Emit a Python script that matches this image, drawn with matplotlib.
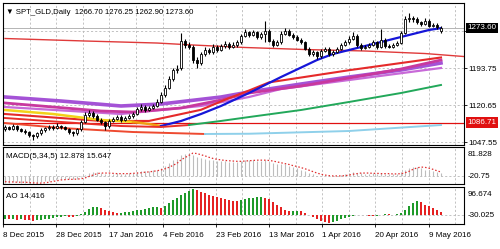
import matplotlib
matplotlib.use("Agg")
import matplotlib.pyplot as plt
import matplotlib.transforms as mtrans
import numpy as np

plt.rcParams['font.family'] = ['Liberation Sans', 'DejaVu Sans']

# ---------------- data ----------------
symbol_title = "SPT_GLD,Daily"
last_ohlc = ["1266.70", "1276.25", "1262.90", "1273.60"]

opens = [1075, 1078, 1075, 1080, 1074, 1071, 1068, 1062, 1060, 1066,
         1072, 1076, 1079, 1077, 1081, 1078, 1075, 1068, 1066, 1074,
         1088, 1102, 1106, 1099, 1092, 1088, 1080, 1090, 1094, 1098,
         1092, 1096, 1100, 1104, 1114, 1118, 1112, 1116, 1120, 1128,
         1142, 1155, 1172, 1190, 1195, 1247, 1240, 1236, 1210, 1205,
         1222, 1230, 1226, 1236, 1230, 1238, 1242, 1236, 1240, 1245,
         1258, 1265, 1260, 1265, 1255, 1262, 1268, 1248, 1240, 1245,
         1262, 1268, 1260, 1256, 1250, 1245, 1232, 1222, 1225, 1218,
         1228, 1232, 1222, 1226, 1232, 1240, 1246, 1252, 1258, 1240,
         1234, 1236, 1240, 1245, 1236, 1250, 1238, 1236, 1240, 1244,
         1264, 1290, 1293, 1290, 1285, 1282, 1288, 1278, 1280, 1266.7]
highs = [1082, 1081, 1084, 1082, 1077, 1074, 1070, 1065, 1069, 1076,
         1079, 1083, 1082, 1085, 1083, 1081, 1077, 1071, 1077, 1091,
         1107, 1111, 1109, 1103, 1095, 1090, 1094, 1098, 1102, 1101,
         1100, 1103, 1108, 1118, 1123, 1121, 1120, 1124, 1133, 1147,
         1161, 1178, 1195, 1200, 1263, 1251, 1246, 1240, 1216, 1226,
         1235, 1234, 1241, 1240, 1242, 1247, 1245, 1245, 1249, 1262,
         1271, 1268, 1270, 1268, 1266, 1287, 1271, 1251, 1249, 1267,
         1274, 1271, 1263, 1260, 1253, 1248, 1235, 1229, 1228, 1232,
         1236, 1235, 1230, 1235, 1244, 1250, 1257, 1265, 1261, 1243,
         1240, 1244, 1249, 1248, 1272, 1253, 1242, 1243, 1248, 1268,
         1296, 1303, 1297, 1294, 1288, 1293, 1291, 1284, 1283, 1276.25]
lows = [1071, 1072, 1072, 1070, 1068, 1064, 1059, 1052, 1057, 1063,
        1069, 1073, 1073, 1074, 1074, 1072, 1064, 1061, 1063, 1071,
        1085, 1098, 1095, 1089, 1084, 1073, 1077, 1087, 1091, 1088,
        1089, 1093, 1096, 1101, 1110, 1108, 1109, 1113, 1117, 1125,
        1138, 1152, 1168, 1184, 1191, 1234, 1232, 1205, 1195, 1201,
        1218, 1221, 1222, 1226, 1227, 1234, 1232, 1233, 1236, 1242,
        1255, 1256, 1257, 1251, 1252, 1246, 1245, 1236, 1237, 1242,
        1259, 1257, 1252, 1247, 1241, 1229, 1218, 1219, 1213, 1215,
        1225, 1218, 1219, 1223, 1229, 1237, 1242, 1249, 1236, 1230,
        1231, 1233, 1237, 1232, 1233, 1234, 1233, 1233, 1237, 1241,
        1261, 1286, 1286, 1281, 1278, 1279, 1275, 1275, 1272, 1262.9]
closes = [1078, 1075, 1080, 1074, 1071, 1068, 1062, 1060, 1066, 1072,
          1076, 1079, 1077, 1081, 1078, 1075, 1068, 1066, 1074, 1088,
          1102, 1106, 1099, 1092, 1088, 1080, 1090, 1094, 1098, 1092,
          1096, 1100, 1104, 1114, 1118, 1112, 1116, 1120, 1128, 1142,
          1155, 1172, 1190, 1192, 1247, 1240, 1236, 1210, 1205, 1222,
          1230, 1226, 1236, 1230, 1238, 1242, 1236, 1240, 1245, 1258,
          1265, 1260, 1265, 1255, 1262, 1268, 1248, 1240, 1245, 1262,
          1268, 1260, 1256, 1250, 1245, 1232, 1222, 1225, 1218, 1228,
          1232, 1222, 1226, 1232, 1240, 1246, 1252, 1258, 1240, 1234,
          1236, 1240, 1245, 1236, 1250, 1238, 1236, 1240, 1244, 1264,
          1290, 1293, 1290, 1285, 1282, 1288, 1278, 1280, 1276, 1273.6]

# moving-average lines (bar index, price)
ma_long_idx = [0, 20, 38, 47, 60, 75, 90, 105, 114.75]
ma_long_val = [1252.5, 1247.6, 1243.6, 1239.7, 1234.8, 1230.8, 1227.9, 1222.9, 1217.0]
purple_idx = [0, 14, 29, 39, 54, 61, 74, 86, 99, 109]
purple_val = [1137.2, 1129.3, 1119.5, 1123.4, 1137.2, 1147.1, 1162.8, 1176.6, 1190.4, 1204.2]
magenta_idx = [0, 24, 32, 44, 54, 61, 74, 86, 99, 109]
magenta_val = [1125.4, 1109.6, 1107.6, 1115.5, 1131.3, 1145.1, 1158.9, 1174.7, 1192.4, 1210.1]
orchid_idx = [0, 29, 49, 61, 69, 86, 109]
orchid_val = [1117.5, 1103.7, 1119.5, 1137.2, 1153.0, 1170.7, 1194.4]
crimson_idx = [0, 24, 36, 49, 56, 61, 66, 86, 109]
crimson_val = [1103.7, 1090.0, 1090.0, 1112.0, 1135.0, 1150.0, 1166.0, 1190.0, 1215.1]
fast_idx = [0, 12, 24, 32, 36, 39, 44, 49, 54, 61, 69, 78, 82, 86, 94, 99, 106, 109]
fast_val = [1111.6, 1103.7, 1091.9, 1088.0, 1084.0, 1080.0, 1089.9, 1103.7, 1119.5,
            1145.1, 1176.6, 1210.1, 1222.0, 1229.8, 1245.6, 1255.5, 1269.3, 1273.0]
mid_idx = [0, 14, 29, 39, 46, 54, 61, 74, 86, 99, 109]
mid_val = [1095.8, 1088.0, 1080.0, 1078.1, 1082.0, 1090.0, 1097.7, 1111.6, 1127.4, 1145.1, 1160.9]
low_idx = [0, 14, 32, 50, 61, 86, 109]
low_val = [1085.9, 1076.1, 1068.2, 1064.3, 1064.8, 1070.2, 1082.0]

hline_level = 1086.71
last_price = 1273.60
price_ticks = [1047.55, 1120.65, 1193.75, 1266.85]
price_tick_labels = ["1047.55", "1120.65", "1193.75", ""]

macd_main = [-22, -21, -19, -20, -21, -22, -24, -25, -23, -20,
             -17, -14, -12, -10, -9, -9, -10, -10, -7, -2,
             6, 12, 14, 14, 12, 9, 10, 10, 11, 10,
             10, 11, 12, 15, 18, 18, 19, 21, 24, 30,
             37, 46, 56, 60, 76, 80, 82, 76, 68, 64,
             62, 58, 58, 55, 54, 54, 52, 51, 51, 54,
             57, 57, 57, 55, 55, 56, 52, 46, 42, 42,
             42, 38, 34, 29, 24, 18, 11, 7, 2, 2,
             2, 0, 0, 1, 4, 8, 12, 15, 13, 11,
             10, 10, 11, 9, 11, 9, 8, 8, 9, 15,
             22, 30, 34, 32, 28, 24, 20, 18, 15, 12.878]
macd_signal = [-18, -19, -19, -20, -20, -20, -21, -22, -23, -23,
               -22, -20, -17, -15, -12, -11, -10, -10, -9, -8,
               -5, 0, 5, 10, 12, 12, 12, 11, 10, 10,
               10, 10, 11, 12, 13, 15, 16, 18, 20, 23,
               27, 32, 39, 46, 58, 66, 74, 81.8, 80, 76,
               72, 67, 63, 60, 58, 56, 55, 54, 53, 53,
               54, 55, 56, 57, 57, 57, 56, 54, 51, 48,
               45, 42, 38, 35, 31, 27, 22, 17, 12, 8,
               5, 3, 2, 2, 2, 3, 5, 8, 10, 12,
               12, 12, 11, 11, 10, 10, 10, 9, 9, 10,
               13, 18, 25, 30, 33, 32, 29, 25, 20, 15.647]
ao_values = [-12, -14, -13, -16, -15, -17, -18, -20, -19, -16, -14, -12,
             -9, -6, -4, -3, -4, -5, -2,
             5, 14, 24, 31, 33,
             28, 22, 16, 12, 10,
             11, 13, 15, 17, 20, 23, 26, 28, 31, 33,
             30,
             38, 48, 58, 68, 78, 88, 95, 100,
             99, 92, 86, 80, 76, 72, 68, 64, 60, 57, 55,
             58, 62, 66, 68, 70, 71,
             69, 62, 52, 42, 32, 22, 16, 17, 19, 16, 10, 3, -5, -12, -20, -26, -28,
             -24, -20, -14, -9, -4,
             -1, 1, 2, 1, -1, -3,
             -2, 2, 5, 4, 3, 6, 10,
             22, 36, 48, 56,
             50, 42, 35, 28, 21, 14.416]

macd_scale_labels = ["81.828", "-20.75"]
ao_scale_labels = ["96.674", "-30.025"]

date_labels = ["8 Dec 2015", "28 Dec 2015", "17 Jan 2016", "4 Feb 2016", "23 Feb 2016",
               "13 Mar 2016", "1 Apr 2016", "20 Apr 2016", "9 May 2016"]

for arr in (opens, highs, lows, macd_main, macd_signal, ao_values):
    if len(arr) != len(closes):
        raise SystemExit("length mismatch %d" % len(arr))

# ---------------- layout ----------------
W, H = 500, 249
fig = plt.figure(figsize=(W / 100, H / 100), dpi=100)
fig.patch.set_facecolor("white")


def rect(x0, y0, x1, y1):
    return [x0 / W, 1 - y1 / H, (x1 - x0) / W, (y1 - y0) / H]


ax = fig.add_axes(rect(3, 3, 464, 145))
ax_m = fig.add_axes(rect(3, 147, 464, 184))
ax_a = fig.add_axes(rect(3, 187, 464, 224))

n = len(closes)
x = np.arange(n)
XL = (-0.5, 114.75)
bar_step = 6.65
grid_x = [k * bar_step - 0.5 for k in range(1, 18)]
label_x = [k * 2 * bar_step - 0.5 for k in range(len(date_labels))]

FS = 5.8
grid_kw = dict(color="#b8b8b8", lw=0.6, ls=(0, (2.5, 2.5)), zorder=0)

for a in (ax, ax_m, ax_a):
    a.set_xlim(*XL)
    for s in a.spines.values():
        s.set_color("black")
        s.set_linewidth(0.8)
    for gx in grid_x:
        a.axvline(gx, **grid_kw)
    a.tick_params(axis="y", left=False, right=True, labelleft=False, labelright=False,
                  length=2, width=0.6, labelsize=FS, pad=1.5)
    a.tick_params(axis="x", bottom=False, labelbottom=False)

# ---------------- main panel ----------------
ax.set_ylim(1042.6, 1322.5)
ax.set_yticks(price_ticks)
ax.set_yticklabels(price_tick_labels)
ax.tick_params(axis="y", labelright=True)
for py in price_ticks:
    ax.axhline(py, **grid_kw)

ax.axhline(last_price, color="#b4b4b4", lw=0.7, zorder=1)
ax.axhline(hline_level, color="#e01010", lw=0.9, zorder=2)

ax.plot(ma_long_idx, ma_long_val, color="#e03a3a", lw=1.0, zorder=2)
ax.plot(orchid_idx, orchid_val, color="#c86ad8", lw=1.6, zorder=2)
ax.plot(purple_idx, purple_val, color="#a452d6", lw=2.6, zorder=2)
ax.plot(magenta_idx, magenta_val, color="#c8389e", lw=2.0, zorder=2)
ax.plot(crimson_idx, crimson_val, color="#e52a2a", lw=1.5, zorder=2)
ax.plot(fast_idx[:4], fast_val[:4], color="#f2d21a", lw=1.8, zorder=2)
ax.plot(fast_idx[3:6], fast_val[3:6], color="#f0a010", lw=1.8, zorder=2)
ax.plot(fast_idx[5:], fast_val[5:], color="#1616d8", lw=1.6, zorder=2)
ax.plot(mid_idx[:5], mid_val[:5], color="#e8302a", lw=1.4, zorder=2)
ax.plot(mid_idx[4:], mid_val[4:], color="#22a85a", lw=1.4, zorder=2)
ax.plot(low_idx[:4], low_val[:4], color="#ee4a30", lw=1.4, zorder=2)
ax.plot(low_idx[3:], low_val[3:], color="#8fd0ea", lw=1.4, zorder=2)

o = np.array(opens, float)
c = np.array(closes, float)
hi = np.array(highs, float)
lo = np.array(lows, float)
ax.vlines(x, lo, hi, color="black", lw=0.8, zorder=3)
bull = c >= o
body_bottom = np.minimum(o, c)
body_h = np.maximum(np.abs(c - o), 0.8)
ax.bar(x[bull], body_h[bull], bottom=body_bottom[bull], width=0.62,
       color="white", edgecolor="black", linewidth=0.6, zorder=4)
ax.bar(x[~bull], body_h[~bull], bottom=body_bottom[~bull], width=0.62,
       color="black", edgecolor="black", linewidth=0.6, zorder=4)

ytr = mtrans.blended_transform_factory(ax.transAxes, ax.transData)
ax.text(1.008, last_price, last_ohlc[3], transform=ytr, ha="left", va="center",
        fontsize=FS, color="white", zorder=10,
        bbox=dict(facecolor="black", edgecolor="none", pad=1.3))
ax.text(1.008, hline_level, "%.2f" % hline_level, transform=ytr, ha="left", va="center",
        fontsize=FS, color="white", zorder=10,
        bbox=dict(facecolor="#e01010", edgecolor="none", pad=1.3))

ax.text(0.006, 0.93, "\u25BC " + symbol_title + "  " + " ".join(last_ohlc),
        transform=ax.transAxes, ha="left", va="center", fontsize=5.6, color="black")

# ---------------- MACD panel ----------------
ax_m.set_ylim(-26.2, 103)
ax_m.set_yticks([])
ax_m.axhline(0, **grid_kw)
mm = np.array(macd_main, float)
ax_m.vlines(x, 0, mm, color="#bdbdbd", lw=0.8, zorder=2)
ax_m.plot(x, macd_signal, color="#e03030", lw=0.9, ls=(0, (1.2, 1.6)), zorder=3)
ax_m.text(0.006, 0.73, "MACD(5,34,5) %.3f %.3f" % (macd_main[-1], macd_signal[-1]),
          transform=ax_m.transAxes, ha="left", va="center", fontsize=FS)
ax_m.text(1.008, 0.81, macd_scale_labels[0], transform=ax_m.transAxes, ha="left",
          va="center", fontsize=FS)
ax_m.text(1.008, 0.20, macd_scale_labels[1], transform=ax_m.transAxes, ha="left",
          va="center", fontsize=FS)

# ---------------- AO panel ----------------
ax_a.set_ylim(-32.7, 109.6)
ax_a.set_yticks([])
ax_a.axhline(0, **grid_kw)
av = np.array(ao_values, float)
prev = np.concatenate([[av[0] - 1], av[:-1]])
cols = np.where(av > prev, "#1f9a2a", "#e52222")
ax_a.bar(x, av, width=0.72, color=cols, linewidth=0, zorder=2)
ax_a.text(0.006, 0.73, "AO %.3f" % ao_values[-1], transform=ax_a.transAxes,
          ha="left", va="center", fontsize=FS)
ax_a.text(1.008, 0.81, ao_scale_labels[0], transform=ax_a.transAxes, ha="left",
          va="center", fontsize=FS)
ax_a.text(1.008, 0.24, ao_scale_labels[1], transform=ax_a.transAxes, ha="left",
          va="center", fontsize=FS)

ax_a.set_xticks(label_x)
ax_a.set_xticklabels(date_labels)
ax_a.tick_params(axis="x", bottom=True, labelbottom=True, length=2, width=0.6,
                 labelsize=FS, pad=3.5)
for lbl in ax_a.get_xticklabels():
    lbl.set_horizontalalignment("left")

fig.savefig("out.png", dpi=100, facecolor="white")
